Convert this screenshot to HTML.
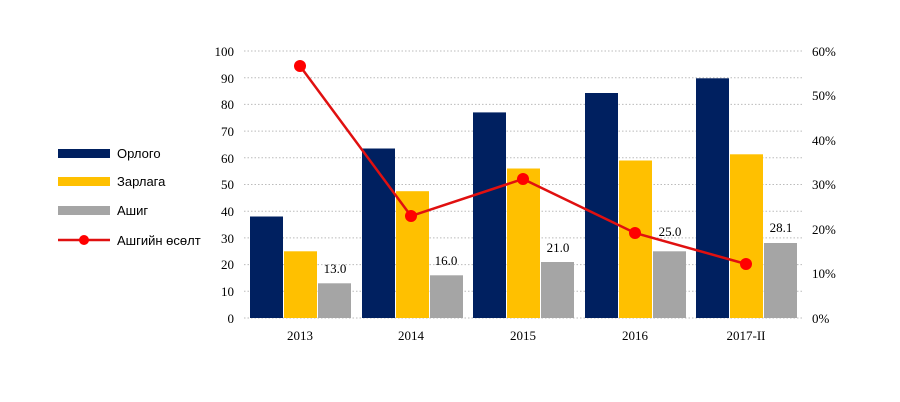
<!DOCTYPE html>
<html><head><meta charset="utf-8"><style>body{margin:0;background:#fff}svg{display:block}</style></head><body>
<svg width="900" height="402" xmlns="http://www.w3.org/2000/svg" font-family="Liberation Serif, serif" font-size="13" fill="#000">
<g stroke="#bbb" stroke-dasharray="1.5,2" stroke-width="1">
<line x1="244" x2="802" y1="51" y2="51"/><line x1="244" x2="802" y1="77.7" y2="77.7"/><line x1="244" x2="802" y1="104.4" y2="104.4"/><line x1="244" x2="802" y1="131.1" y2="131.1"/><line x1="244" x2="802" y1="157.8" y2="157.8"/><line x1="244" x2="802" y1="184.5" y2="184.5"/><line x1="244" x2="802" y1="211.2" y2="211.2"/><line x1="244" x2="802" y1="237.9" y2="237.9"/><line x1="244" x2="802" y1="264.6" y2="264.6"/><line x1="244" x2="802" y1="291.3" y2="291.3"/><line x1="244" x2="802" y1="318" y2="318"/>
</g>
<g text-anchor="end">
<text x="234" y="56">100</text><text x="234" y="83">90</text><text x="234" y="109">80</text><text x="234" y="136">70</text><text x="234" y="163">60</text><text x="234" y="189">50</text><text x="234" y="216">40</text><text x="234" y="243">30</text><text x="234" y="269">20</text><text x="234" y="296">10</text><text x="234" y="323">0</text>
</g>
<g>
<text x="812" y="56">60%</text><text x="812" y="100">50%</text><text x="812" y="145">40%</text><text x="812" y="189">30%</text><text x="812" y="234">20%</text><text x="812" y="278">10%</text><text x="812" y="323">0%</text>
</g>
<g fill="#002060">
<rect x="250" y="216.5" width="33" height="101.5"/><rect x="362" y="148.5" width="33" height="169.5"/><rect x="473" y="112.4" width="33" height="205.6"/><rect x="585" y="93" width="33" height="225"/><rect x="696" y="78.3" width="33" height="239.7"/>
</g>
<g fill="#ffc000">
<rect x="284" y="251.3" width="33" height="66.7"/><rect x="396" y="191.2" width="33" height="126.8"/><rect x="507" y="168.5" width="33" height="149.5"/><rect x="619" y="160.5" width="33" height="157.5"/><rect x="730" y="154.3" width="33" height="163.7"/>
</g>
<g fill="#a5a5a5">
<rect x="318" y="283.3" width="33" height="34.7"/><rect x="430" y="275.3" width="33" height="42.7"/><rect x="541" y="262" width="33" height="56"/><rect x="653" y="251.3" width="33" height="66.7"/><rect x="764" y="243" width="33" height="75"/>
</g>
<g text-anchor="middle">
<text x="335" y="273">13.0</text><text x="446" y="265">16.0</text><text x="558" y="252">21.0</text><text x="670" y="236">25.0</text><text x="781" y="232">28.1</text>
<text x="300" y="340">2013</text><text x="411" y="340">2014</text><text x="523" y="340">2015</text><text x="635" y="340">2016</text><text x="746" y="340">2017-II</text>
</g>
<polyline points="300,66 411,216 523,179 635,233 746,264" fill="none" stroke="#e01010" stroke-width="2.5"/>
<g fill="#ff0000"><circle cx="300" cy="66" r="6"/><circle cx="411" cy="216" r="6"/><circle cx="523" cy="179" r="6"/><circle cx="635" cy="233" r="6"/><circle cx="746" cy="264" r="6"/></g>
<g font-family="Liberation Sans, DejaVu Sans, sans-serif" font-size="13">
<rect x="58" y="149" width="52" height="9" fill="#002060"/><text x="117" y="158">Орлого</text>
<rect x="58" y="177" width="52" height="9" fill="#ffc000"/><text x="117" y="186">Зарлага</text>
<rect x="58" y="206" width="52" height="9" fill="#a5a5a5"/><text x="117" y="215">Ашиг</text>
<line x1="58" x2="110" y1="240" y2="240" stroke="#e01010" stroke-width="2.5"/><circle cx="84" cy="240" r="5" fill="#ff0000"/><text x="117" y="245">Ашгийн өсөлт</text>
</g>
</svg>
</body></html>
